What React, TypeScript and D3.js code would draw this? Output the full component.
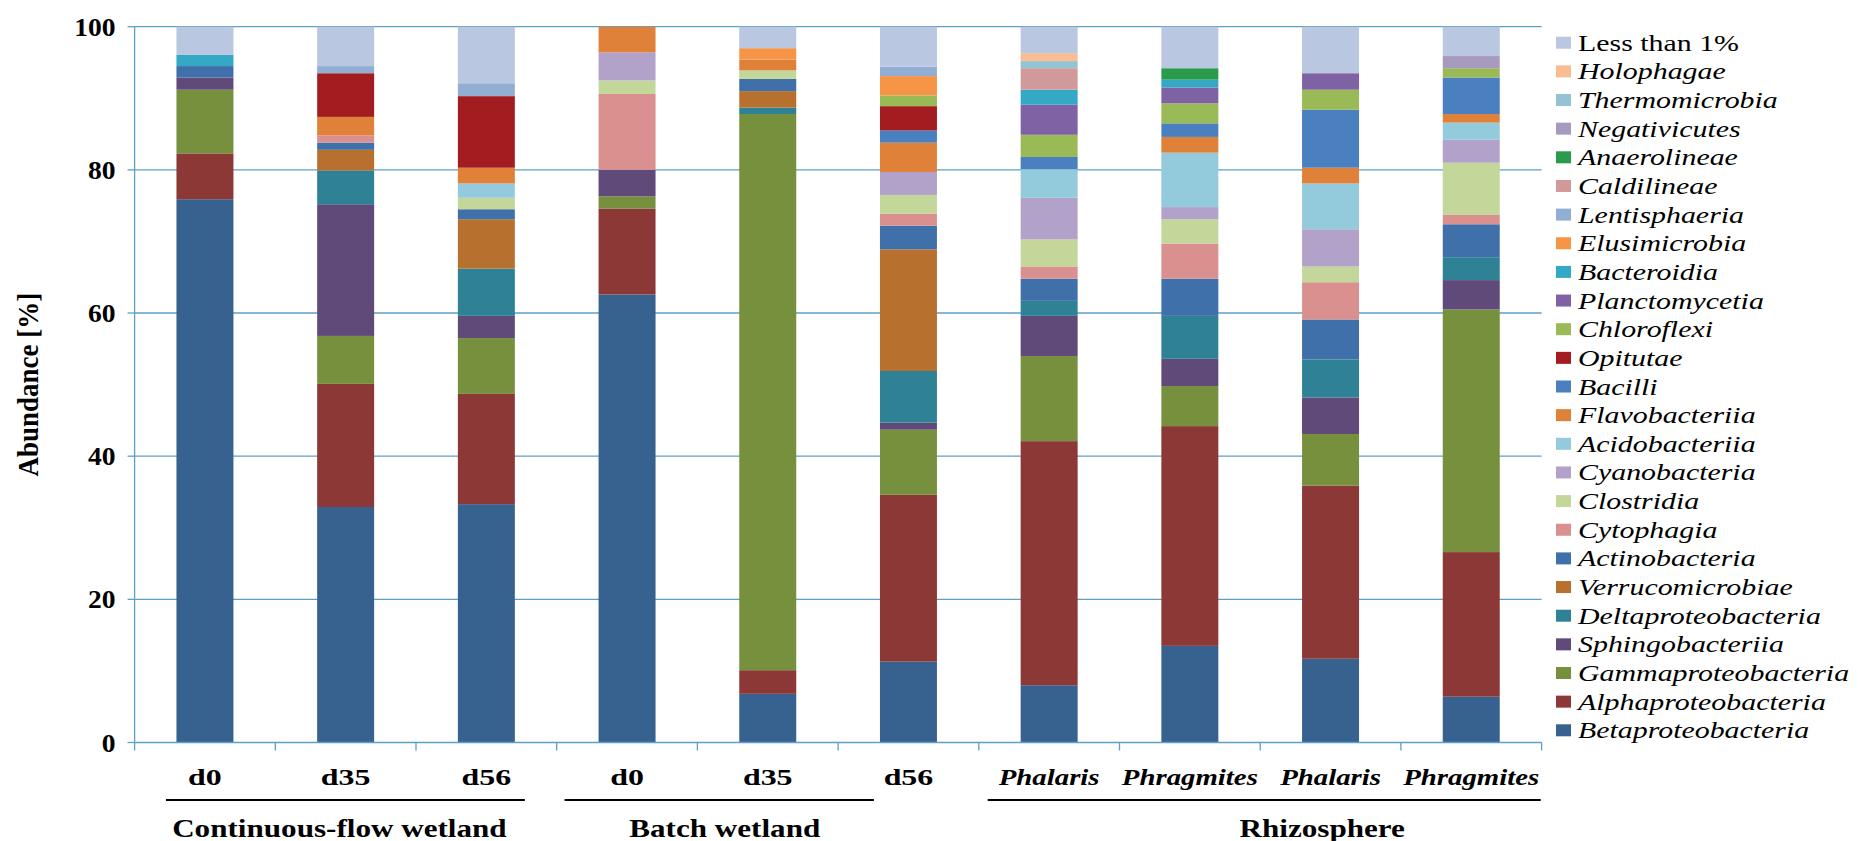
import React from "react";
import * as d3 from "d3";

const categories = ["d0", "d35", "d56", "d0 ", "d35 ", "d56 ", "Phalaris", "Phragmites", "Phalaris ", "Phragmites "];
const categoryLabels = ["d0", "d35", "d56", "d0", "d35", "d56", "Phalaris", "Phragmites", "Phalaris", "Phragmites"];
const categoryItalic = [false, false, false, false, false, false, true, true, true, true];

const groups = ["Continuous-flow wetland", "Batch wetland", "Rhizosphere"];
const groupSpans = [[0, 2], [3, 5], [6, 9]];

const yTicks = [0, 20, 40, 60, 80, 100];

// series in stacking order (bottom to top)
const seriesNames = [
  "Betaproteobacteria", "Alphaproteobacteria", "Gammaproteobacteria", "Sphingobacteriia",
  "Deltaproteobacteria", "Verrucomicrobiae", "Actinobacteria", "Cytophagia", "Clostridia",
  "Cyanobacteria", "Acidobacteriia", "Flavobacteriia", "Bacilli", "Opitutae", "Chloroflexi",
  "Planctomycetia", "Bacteroidia", "Elusimicrobia", "Lentisphaeria", "Caldilineae",
  "Anaerolineae", "Negativicutes", "Thermomicrobia", "Holophagae", "Less than 1%",
];

const seriesColors = [
  "#37618f", "#8b3836", "#76903d", "#5f4a7a",
  "#2f8296", "#b8702f", "#3f70aa", "#d9908f", "#c3d79a",
  "#b2a1c8", "#93cbdc", "#df8138", "#4a7fc0", "#a21c20", "#9aba58",
  "#7f62a3", "#35a8c6", "#f69545", "#93aed4", "#cf9a99",
  "#2a9a4c", "#a89abf", "#94c4d4", "#f9bd92", "#b9c7e0",
];

const betaproteobacteria = [75.9, 32.9, 33.3, 62.6, 6.8, 11.3, 8.0, 13.5, 11.7, 6.4];
const alphaproteobacteria = [6.4, 17.2, 15.4, 12.0, 3.3, 23.3, 34.1, 30.7, 24.2, 20.2];
const gammaproteobacteria = [8.9, 6.7, 7.8, 1.7, 77.7, 9.1, 11.9, 5.6, 7.2, 33.9];
const sphingobacteriia = [1.7, 18.4, 3.1, 3.7, 0, 1.0, 5.6, 3.8, 5.1, 4.1];
const deltaproteobacteria = [0, 4.7, 6.6, 0, 0.9, 7.2, 2.1, 6.0, 5.3, 3.2];
const verrucomicrobiae = [0, 2.9, 6.9, 0, 2.3, 17.0, 0, 0, 0, 0];
const actinobacteria = [1.6, 1.0, 1.4, 0, 1.7, 3.3, 3.1, 5.2, 5.6, 4.6];
const cytophagia = [0, 1.0, 0, 10.6, 0, 1.7, 1.7, 4.9, 5.2, 1.3];
const clostridia = [0, 0, 1.6, 1.9, 1.2, 2.6, 3.8, 3.4, 2.2, 7.3];
const cyanobacteria = [0, 0, 0, 3.9, 0, 3.2, 5.8, 1.7, 5.2, 3.2];
const acidobacteriia = [0, 0, 2.0, 0, 0, 0, 4.0, 7.6, 6.4, 2.4];
const flavobacteriia = [0, 2.6, 2.2, 3.6, 1.5, 4.1, 0, 2.2, 2.2, 1.2];
const bacilli = [0, 0, 0, 0, 0, 1.7, 1.7, 1.9, 8.1, 5.1];
const opitutae = [0, 6.1, 10.0, 0, 0, 3.4, 0, 0, 0, 0];
const chloroflexi = [0, 0, 0, 0, 0, 1.5, 3.1, 2.8, 2.8, 1.3];
const planctomycetia = [0, 0, 0, 0, 0, 0, 4.2, 2.2, 2.3, 0];
const bacteroidia = [1.6, 0, 0, 0, 0, 0, 2.1, 1.1, 0, 0];
const elusimicrobia = [0, 0, 0, 0, 1.6, 2.7, 0, 0, 0, 0];
const lentisphaeria = [0, 1.0, 1.8, 0, 0, 1.3, 0, 0, 0, 0];
const caldilineae = [0, 0, 0, 0, 0, 0, 3.0, 0, 0, 0];
const anaerolineae = [0, 0, 0, 0, 0, 0, 0, 1.6, 0, 0];
const negativicutes = [0, 0, 0, 0, 0, 0, 0, 0, 0, 1.7];
const thermomicrobia = [0, 0, 0, 0, 0, 0, 1.0, 0, 0, 0];
const holophagae = [0, 0, 0, 0, 0, 0, 1.1, 0, 0, 0];
const lessThan1 = [3.9, 5.5, 7.9, 0, 3.0, 5.6, 3.7, 5.8, 6.5, 4.1];

const seriesValues = [
  betaproteobacteria, alphaproteobacteria, gammaproteobacteria, sphingobacteriia,
  deltaproteobacteria, verrucomicrobiae, actinobacteria, cytophagia, clostridia,
  cyanobacteria, acidobacteriia, flavobacteriia, bacilli, opitutae, chloroflexi,
  planctomycetia, bacteroidia, elusimicrobia, lentisphaeria, caldilineae,
  anaerolineae, negativicutes, thermomicrobia, holophagae, lessThan1,
];

const W = 1858;
const H = 841;
const FONT = "'Liberation Serif', 'Times New Roman', serif";
const GRID = "#5e9fc6";

// layout: underline extents relative to first/last bar edges, label shift relative to line centre
const groupLineLayout = [
  { left: -10.5, right: 10, labelShift: -6 },
  { left: -34, right: -63, labelShift: 5.5 },
  { left: -33, right: 41, labelShift: 58 },
];

function SText({ x, y, size, sx = 1.27, anchor = "start", bold = false, italic = false, children, rotate = 0 }: any) {
  const t = rotate
    ? `translate(${x},${y}) scale(${sx},1) rotate(${rotate})`
    : `translate(${x},${y}) scale(${sx},1)`;
  return (
    <text
      transform={t}
      fontFamily={FONT}
      fontSize={size}
      fontWeight={bold ? "bold" : "normal"}
      fontStyle={italic ? "italic" : "normal"}
      textAnchor={anchor}
      fill="#000"
    >
      {children}
    </text>
  );
}

export default function App() {
  const plotLeft = 134.6;
  const plotRight = 1541.6;
  const x = d3
    .scaleBand<string>()
    .domain(categories)
    .range([plotLeft, plotRight])
    .paddingInner(0.595)
    .paddingOuter(0.2975);
  const y = d3.scaleLinear().domain([0, 100]).range([742.5, 26.7]);
  const step = x.step();
  const bw = x.bandwidth();

  const table = categories.map((c, i) => {
    const row: any = { cat: c };
    seriesNames.forEach((s, k) => (row[s] = seriesValues[k][i]));
    return row;
  });
  const stacked = d3.stack<any>().keys(seriesNames)(table);

  const boundaries = d3.range(categories.length + 1).map((i) => plotLeft + i * step);

  const legendItems = seriesNames.slice().reverse();
  const legendColors = seriesColors.slice().reverse();

  return (
    <svg width={W} height={H} style={{ position: "absolute", left: 0, top: 0, background: "#fff" }}>
      <rect width={W} height={H} fill="#fff" />
      {/* gridlines */}
      {yTicks.filter((t) => t > 0).map((t) => (
        <line key={t} x1={plotLeft} x2={plotRight} y1={y(t)} y2={y(t)} stroke={GRID} strokeWidth={1.3} />
      ))}
      {/* bars */}
      {stacked.map((layer, k) => (
        <g key={layer.key} fill={seriesColors[k]}>
          {layer.map((d, i) =>
            d[1] - d[0] > 0 ? (
              <rect
                key={i}
                x={x(categories[i])!}
                width={bw}
                y={y(d[1])}
                height={y(d[0]) - y(d[1])}
              />
            ) : null
          )}
        </g>
      ))}
      {/* axes */}
      <line x1={plotLeft} x2={plotLeft} y1={y(0)} y2={y(100)} stroke={GRID} strokeWidth={1.3} />
      <line x1={plotLeft} x2={plotRight} y1={y(0)} y2={y(0)} stroke={GRID} strokeWidth={1.3} />
      {yTicks.map((t) => (
        <line key={t} x1={plotLeft - 7} x2={plotLeft} y1={y(t)} y2={y(t)} stroke={GRID} strokeWidth={1.3} />
      ))}
      {boundaries.map((bx, i) => (
        <line key={i} x1={bx} x2={bx} y1={y(0)} y2={y(0) + 8} stroke={GRID} strokeWidth={1.3} />
      ))}
      {/* y tick labels */}
      {yTicks.map((t) => (
        <SText key={t} x={plotLeft - 19} y={y(t) + 9} size={26} sx={1.06} anchor="end" bold>
          {String(t)}
        </SText>
      ))}
      <SText x={38} y={y(50)} size={27} sx={1.1} anchor="middle" bold rotate={-90}>
        Abundance [%]
      </SText>
      {/* category labels */}
      {categories.map((c, i) => (
        <SText
          key={c}
          x={x(c)! + bw / 2}
          y={785}
          size={24}
          sx={categoryItalic[i] ? 1.2 : 1.33}
          anchor="middle"
          bold
          italic={categoryItalic[i]}
        >
          {categoryLabels[i]}
        </SText>
      ))}
      {/* group underlines and labels */}
      {groups.map((g, gi) => {
        const [a, b] = groupSpans[gi];
        const lay = groupLineLayout[gi];
        const x1 = x(categories[a])! + lay.left;
        const x2 = x(categories[b])! + bw + lay.right;
        return (
          <g key={g}>
            <line x1={x1} x2={x2} y1={800} y2={800} stroke="#000" strokeWidth={2} />
            <SText x={(x1 + x2) / 2 + lay.labelShift} y={837} size={24.5} anchor="middle" bold>
              {g}
            </SText>
          </g>
        );
      })}
      {/* legend */}
      {legendItems.map((name, i) => {
        const cy = 42.7 + i * 28.65;
        return (
          <g key={name}>
            <rect x={1556} y={cy - 6} width={15} height={12} fill={legendColors[i]} />
            <SText x={1578} y={cy + 8} size={23} sx={1.3} italic={name !== "Less than 1%"}>
              {name}
            </SText>
          </g>
        );
      })}
    </svg>
  );
}
